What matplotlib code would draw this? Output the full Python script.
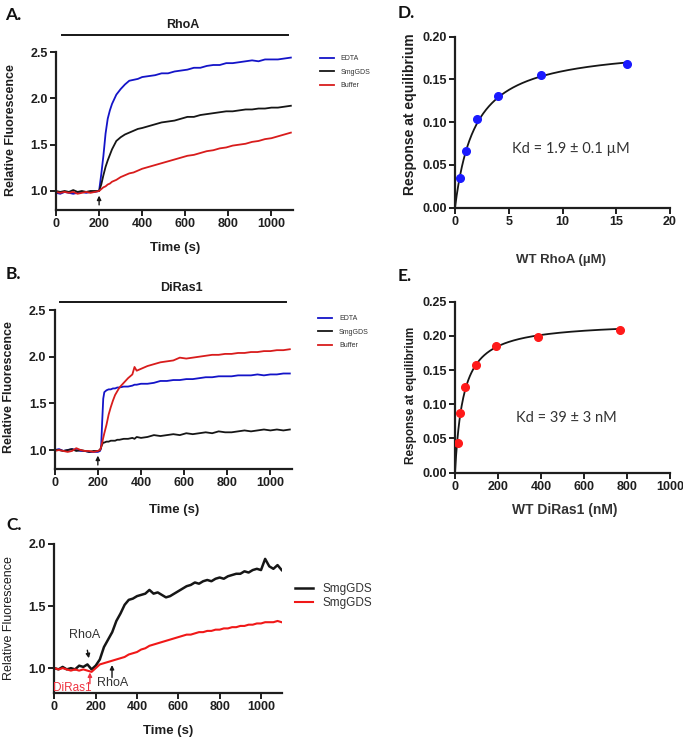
import matplotlib
matplotlib.use('Agg')
import matplotlib.pyplot as plt
import numpy as np

plt.rcParams['font.family'] = ['Liberation Sans', 'DejaVu Sans']

# ---- panel A: RhoA nucleotide exchange ----
t_a = [0, 20, 40, 60, 80, 100, 120, 140, 160, 180, 200,
       210, 220, 230, 240, 250, 260,
       280, 300, 320, 340, 360, 380, 400,
       430, 460, 490, 520, 550, 580, 610, 640, 670, 700, 730, 760, 790, 820,
       850, 880, 910, 940, 970, 1000, 1030, 1060, 1090]
a_edta = [0.98, 0.97, 0.99, 0.98, 0.97, 0.98, 0.99, 0.98, 0.99, 0.99, 1.00,
          1.18, 1.38, 1.62, 1.78, 1.87, 1.94,
          2.04, 2.10, 2.15, 2.19, 2.20, 2.21, 2.23,
          2.24, 2.25, 2.27, 2.27, 2.29, 2.30, 2.31, 2.33, 2.33, 2.35, 2.36, 2.36,
          2.38, 2.38, 2.39, 2.40, 2.41, 2.40, 2.42, 2.42, 2.42, 2.43, 2.44]
a_smg = [1.00, 0.99, 1.00, 0.99, 1.01, 0.99, 1.00, 0.99, 1.00, 1.00, 1.00,
         1.07, 1.17, 1.26, 1.33, 1.39, 1.45,
         1.54, 1.58, 1.61, 1.63, 1.65, 1.67, 1.68,
         1.70, 1.72, 1.74, 1.75, 1.76, 1.78, 1.80, 1.80, 1.82, 1.83, 1.84, 1.85,
         1.86, 1.86, 1.87, 1.88, 1.88, 1.89, 1.89, 1.90, 1.90, 1.91, 1.92]
a_buf = [0.99, 0.98, 0.99, 0.98, 0.99, 0.97, 0.98, 0.99, 0.98, 0.99, 1.00,
         1.02, 1.04, 1.05, 1.07, 1.08, 1.10,
         1.12, 1.15, 1.17, 1.19, 1.20, 1.22, 1.24,
         1.26, 1.28, 1.30, 1.32, 1.34, 1.36, 1.38, 1.39, 1.41, 1.43, 1.44, 1.46,
         1.47, 1.49, 1.50, 1.51, 1.53, 1.54, 1.56, 1.57, 1.59, 1.61, 1.63]

# ---- panel B: DiRas1 ----
t_b = [0, 20, 40, 60, 80, 100, 120, 140, 160, 180, 200,
       210, 215, 220, 225, 230,
       240, 250, 260, 270, 280, 290, 300,
       320, 340, 360, 370, 380, 400,
       430, 460, 490, 520, 550, 580, 610, 640, 670, 700, 730, 760, 790, 820,
       850, 880, 910, 940, 970, 1000, 1030, 1060, 1090]
b_edta = [1.00, 1.01, 0.99, 1.00, 1.01, 1.00, 0.99, 0.99, 0.98, 0.98, 0.98,
          0.99, 1.02, 1.30, 1.55, 1.62,
          1.64, 1.65, 1.65, 1.66, 1.66, 1.67, 1.67,
          1.68, 1.68, 1.69, 1.70, 1.70, 1.71,
          1.71, 1.72, 1.74, 1.74, 1.75, 1.75, 1.76, 1.76, 1.77, 1.78, 1.78, 1.79,
          1.79, 1.79, 1.80, 1.80, 1.80, 1.81, 1.80, 1.81, 1.81, 1.82, 1.82]
b_smg = [1.00, 1.00, 0.99, 1.00, 1.01, 0.99, 1.00, 0.99, 0.98, 0.99, 0.99,
         1.00, 1.03, 1.06, 1.08, 1.08,
         1.09, 1.09, 1.10, 1.10, 1.10, 1.11, 1.11,
         1.12, 1.12, 1.13, 1.12, 1.14, 1.13,
         1.14, 1.16, 1.15, 1.16, 1.17, 1.16, 1.18, 1.17, 1.18, 1.19, 1.18, 1.20,
         1.19, 1.19, 1.20, 1.21, 1.20, 1.21, 1.22, 1.21, 1.22, 1.21, 1.22]
b_buf = [0.99, 1.00, 0.99, 0.98, 0.99, 1.02, 1.00, 0.99, 0.99, 0.98, 0.99,
         1.00, 1.03, 1.08, 1.13, 1.18,
         1.27, 1.38, 1.46, 1.53, 1.59, 1.63, 1.67,
         1.72, 1.77, 1.81, 1.89, 1.85, 1.87,
         1.90, 1.92, 1.94, 1.95, 1.96, 1.99, 1.98, 1.99, 2.00, 2.01, 2.02, 2.02,
         2.03, 2.03, 2.04, 2.04, 2.05, 2.05, 2.06, 2.06, 2.07, 2.07, 2.08]

# ---- panel C: sequential additions ----
t_c = list(range(0, 1101, 20))
c_rhoa = [1.00, 0.99, 1.01, 0.99, 1.00, 0.99, 1.02, 1.01, 1.03, 0.99,
          1.02, 1.07, 1.17, 1.23, 1.29, 1.38, 1.44, 1.51, 1.55, 1.56,
          1.58, 1.59, 1.60, 1.63, 1.60, 1.61, 1.59, 1.57, 1.58, 1.60,
          1.62, 1.64, 1.66, 1.67, 1.69, 1.68, 1.70, 1.71, 1.70, 1.72,
          1.73, 1.72, 1.74, 1.75, 1.76, 1.76, 1.78, 1.77, 1.79, 1.80,
          1.79, 1.88, 1.82, 1.80, 1.83, 1.79]
c_diras = [1.00, 0.99, 1.00, 0.99, 0.98, 0.99, 0.98, 0.99, 0.98, 0.97,
           1.00, 1.03, 1.04, 1.05, 1.06, 1.07, 1.08, 1.09, 1.11, 1.12,
           1.13, 1.15, 1.16, 1.18, 1.19, 1.20, 1.21, 1.22, 1.23, 1.24,
           1.25, 1.26, 1.27, 1.27, 1.28, 1.29, 1.29, 1.30, 1.30, 1.31,
           1.31, 1.32, 1.32, 1.33, 1.33, 1.34, 1.34, 1.35, 1.35, 1.36,
           1.36, 1.37, 1.37, 1.37, 1.38, 1.37]

# ---- panels D/E: equilibrium binding ----
d_conc = [0.5, 1, 2, 4, 8, 16]
d_resp = [0.035, 0.066, 0.104, 0.131, 0.155, 0.168]
d_kd, d_bmax = 1.9, 0.190
e_conc = [12, 24, 48, 96, 192, 384, 768]
e_resp = [0.044, 0.087, 0.125, 0.158, 0.185, 0.198, 0.209]
e_kd, e_bmax = 39, 0.221

BLUE = '#1414c8'
BLACK = '#161616'
RED = '#d81c1c'
TXT = '#1e1e1e'

fig = plt.figure(figsize=(6.83, 7.38), dpi=100)


def style(ax):
    for s in ['top', 'right']:
        ax.spines[s].set_visible(False)
    for s in ['left', 'bottom']:
        ax.spines[s].set_linewidth(1.6)
        ax.spines[s].set_color(TXT)
    ax.tick_params(width=1.4, length=4, labelsize=9, colors=TXT, pad=2)
    for lbl in ax.get_xticklabels() + ax.get_yticklabels():
        lbl.set_fontweight('bold')


def kinetics(ax, ylim, yticks):
    ax.set_xlim(0, 1100)
    ax.set_ylim(*ylim)
    ax.set_xticks([0, 200, 400, 600, 800, 1000])
    ax.set_yticks(yticks)
    ax.set_yticklabels(['%.1f' % v for v in yticks])
    style(ax)


def up_arrow(ax, x, y0, y1, color):
    ax.annotate('', xy=(x, y1), xytext=(x, y0), annotation_clip=False,
                arrowprops=dict(arrowstyle='-|>', color=color, lw=1.0,
                                mutation_scale=6, shrinkA=0, shrinkB=0))


# panel A
axA = fig.add_axes([0.0820, 0.7161, 0.3470, 0.2134])
axA.plot(t_a, a_edta, color=BLUE, lw=1.3, label='EDTA')
axA.plot(t_a, a_smg, color=BLACK, lw=1.3, label='SmgGDS')
axA.plot(t_a, a_buf, color=RED, lw=1.3, label='Buffer')
kinetics(axA, (0.8, 2.5), [1.0, 1.5, 2.0, 2.5])
axA.set_ylabel('Relative Fluorescence', fontsize=9, fontweight='bold', color=TXT)
axA.yaxis.set_label_coords(-0.165, 0.505)
axA.set_xlabel('Time (s)', fontsize=9.5, fontweight='bold', color=TXT)
axA.xaxis.set_label_coords(0.502, -0.206)
axA.plot([28, 1076], [1.108, 1.108], color=BLACK, lw=1.4,
         transform=axA.get_xaxis_transform(), clip_on=False)
axA.text(0.536, 1.171, 'RhoA', transform=axA.transAxes, ha='center', va='center',
         fontsize=9, fontweight='bold', color=TXT)
up_arrow(axA, 200, 0.85, 0.95, BLACK)
axA.legend(loc='center left', bbox_to_anchor=(1.114, 0.873), frameon=False,
           fontsize=5, handlelength=2.0, handletextpad=1.0, labelspacing=0.95,
           borderpad=0, borderaxespad=0, labelcolor='#333333')

# panel B
axB = fig.add_axes([0.0801, 0.3649, 0.3474, 0.2150])
axB.plot(t_b, b_edta, color=BLUE, lw=1.3, label='EDTA')
axB.plot(t_b, b_smg, color=BLACK, lw=1.3, label='SmgGDS')
axB.plot(t_b, b_buf, color=RED, lw=1.3, label='Buffer')
kinetics(axB, (0.8, 2.5), [1.0, 1.5, 2.0, 2.5])
axB.set_ylabel('Relative Fluorescence', fontsize=9, fontweight='bold', color=TXT)
axB.yaxis.set_label_coords(-0.167, 0.515)
axB.set_xlabel('Time (s)', fontsize=9.5, fontweight='bold', color=TXT)
axB.xaxis.set_label_coords(0.502, -0.222)
axB.plot([25, 1073], [1.050, 1.050], color=BLACK, lw=1.4,
         transform=axB.get_xaxis_transform(), clip_on=False)
axB.text(0.532, 1.139, 'DiRas1', transform=axB.transAxes, ha='center', va='center',
         fontsize=9, fontweight='bold', color=TXT)
up_arrow(axB, 200, 0.84, 0.94, BLACK)
axB.legend(loc='center left', bbox_to_anchor=(1.110, 0.861), frameon=False,
           fontsize=5, handlelength=2.0, handletextpad=1.0, labelspacing=0.95,
           borderpad=0, borderaxespad=0, labelcolor='#333333')

# panel C
axC = fig.add_axes([0.0796, 0.0610, 0.3328, 0.2019])
axC.plot(t_c, c_rhoa, color=BLACK, lw=1.8, label='SmgGDS')
axC.plot(t_c, c_diras, color='#f01818', lw=1.5, label='SmgGDS')
kinetics(axC, (0.8, 2.0), [1.0, 1.5, 2.0])
axC.set_ylabel('Relative Fluorescence', fontsize=9, color=TXT)
axC.yaxis.set_label_coords(-0.173, 0.50)
axC.set_xlabel('Time (s)', fontsize=9.5, fontweight='bold', color=TXT)
axC.xaxis.set_label_coords(0.50, -0.215)
axC.annotate('RhoA', xy=(167, 1.08), xytext=(145, 1.27), ha='center', va='center',
             fontsize=9, color='#333333',
             arrowprops=dict(arrowstyle='-|>', color=BLACK, lw=1.0, mutation_scale=6,
                             shrinkA=5, shrinkB=0))
axC.text(85, 0.843, 'DiRas1', ha='center', va='center', fontsize=8.5,
         color='#ee3340', clip_on=False)
up_arrow(axC, 172, 0.875, 0.965, '#ee3340')
axC.text(284, 0.879, 'RhoA', ha='center', va='center', fontsize=9,
         color='#333333', clip_on=False)
up_arrow(axC, 279, 0.925, 1.025, BLACK)
axC.legend(loc='center left', bbox_to_anchor=(1.058, 0.651), frameon=False,
           fontsize=8.5, handlelength=1.5, handletextpad=0.8, labelspacing=0.15,
           borderpad=0, borderaxespad=0, labelcolor='#333333')

# panel D
axD = fig.add_axes([0.6662, 0.7186, 0.3148, 0.2317])
xd = np.linspace(0, max(d_conc), 300)
axD.plot(xd, d_bmax * xd / (d_kd + xd), color=BLACK, lw=1.3)
axD.plot(d_conc, d_resp, 'o', color='#1a1aff', ms=5.5, zorder=3)
axD.set_xlim(0, 20)
axD.set_ylim(0, 0.20)
axD.set_xticks([0, 5, 10, 15, 20])
axD.set_yticks([0, 0.05, 0.10, 0.15, 0.20])
axD.set_yticklabels(['%.2f' % v for v in [0, 0.05, 0.10, 0.15, 0.20]])
style(axD)
axD.set_ylabel('Response at equilibrium', fontsize=10, fontweight='bold', color=TXT)
axD.yaxis.set_label_coords(-0.177, 0.545)
axD.set_xlabel('WT RhoA (\u00b5M)', fontsize=9.5, fontweight='bold', color='#333333')
axD.xaxis.set_label_coords(0.493, -0.270)
axD.text(0.54, 0.345, 'Kd = 1.9 \u00b1 0.1 \u00b5M', transform=axD.transAxes,
         ha='center', va='center', fontsize=10.5, family=['Lato', 'DejaVu Sans'],
         color='#333333')

# panel E
axE = fig.add_axes([0.6662, 0.3595, 0.3148, 0.2317])
xe = np.linspace(0, max(e_conc), 300)
axE.plot(xe, e_bmax * xe / (e_kd + xe), color=BLACK, lw=1.3)
axE.plot(e_conc, e_resp, 'o', color='#ff1a1a', ms=5.5, zorder=3)
axE.set_xlim(0, 1000)
axE.set_ylim(0, 0.25)
axE.set_xticks([0, 200, 400, 600, 800, 1000])
axE.set_yticks([0, 0.05, 0.10, 0.15, 0.20, 0.25])
axE.set_yticklabels(['%.2f' % v for v in [0, 0.05, 0.10, 0.15, 0.20, 0.25]])
style(axE)
axE.set_ylabel('Response at equilibrium', fontsize=8.5, fontweight='bold', color=TXT)
axE.yaxis.set_label_coords(-0.177, 0.454)
axE.set_xlabel('WT DiRas1 (nM)', fontsize=10, fontweight='bold', color='#333333')
axE.xaxis.set_label_coords(0.51, -0.177)
axE.text(0.52, 0.32, 'Kd = 39 \u00b1 3 nM', transform=axE.transAxes,
         ha='center', va='center', fontsize=10.5, family=['Lato', 'DejaVu Sans'],
         color='#333333')

# panel letters
for lab, x, y in [('A.', 0.008, 1 - 15 / 738), ('B.', 0.008, 1 - 274 / 738),
                  ('C.', 0.010, 1 - 525 / 738), ('D.', 0.582, 1 - 13 / 738),
                  ('E.', 0.582, 1 - 276 / 738)]:
    fig.text(x, y, lab, fontsize=12.5, fontweight='bold', va='center', ha='left',
             family=['Lato', 'DejaVu Sans'], color='#111111')

fig.savefig('out.png', dpi=100)
